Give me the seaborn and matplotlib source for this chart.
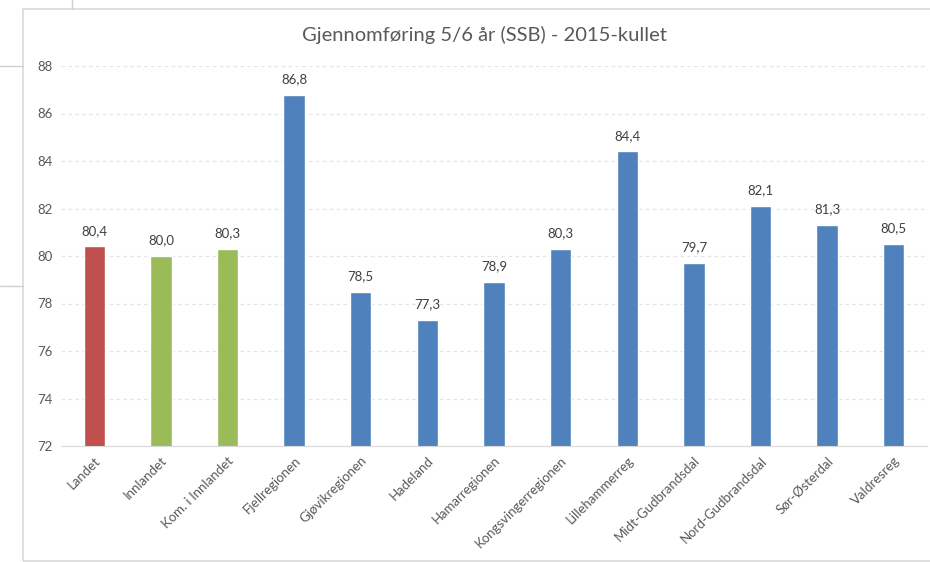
import seaborn as sns
import matplotlib.pyplot as plt
import pandas as pd
from matplotlib.patches import Rectangle
from matplotlib.lines import Line2D

# data
regions = ['Landet', 'Innlandet', 'Kom. i Innlandet', 'Fjellregionen', 'Gjøvikregionen',
           'Hadeland', 'Hamarregionen', 'Kongsvingerregionen', 'Lillehammerreg',
           'Midt-Gudbrandsdal', 'Nord-Gudbrandsdal', 'Sør-Østerdal', 'Valdresreg']
values = [80.4, 80.0, 80.3, 86.8, 78.5, 77.3, 78.9, 80.3, 84.4, 79.7, 82.1, 81.3, 80.5]
bar_colors = ['#C0504D', '#9BBB59', '#9BBB59'] + ['#4F81BD'] * 10
yticks = [72, 74, 76, 78, 80, 82, 84, 86, 88]

df = pd.DataFrame({'region': regions, 'value': values})

sns.set_style('white')
plt.rcParams['font.family'] = ['Lato', 'DejaVu Sans']
txt = '#595959'

fig = plt.figure(figsize=(9.3, 5.62), dpi=100)
ax = fig.add_axes([61 / 930, 1 - 446 / 562, 866 / 930, 380 / 562])

sns.barplot(data=df, x='region', y='value', hue='region', palette=bar_colors,
            legend=False, width=0.32, saturation=1, ax=ax)

ax.set_ylim(72, 88)
ax.set_yticks(yticks)
ax.set_yticklabels([str(t) for t in yticks], color=txt, fontsize=9.5)
ax.set_xlim(-0.5, len(regions) - 0.5)
ax.set_xticks(range(len(regions)))
ax.set_xticklabels(regions, rotation=45, ha='right', rotation_mode='anchor',
                   color=txt, fontsize=9.5)
ax.tick_params(axis='both', length=0, pad=6)
ax.set_xlabel('')
ax.set_ylabel('')

for t in yticks[1:]:
    ax.axhline(t, color='#E6E6E6', lw=0.9, ls=(0, (3, 2.5)), zorder=0)
for s in ['top', 'right', 'left']:
    ax.spines[s].set_visible(False)
ax.spines['bottom'].set_color('#D9D9D9')

for i, v in enumerate(values):
    ax.text(i, v + 0.4, f'{v:.1f}'.replace('.', ','), ha='center', va='bottom',
            color='#404040', fontsize=9.5)

fig.text(484 / 930, 1 - 35 / 562, 'Gjennomføring 5/6 år (SSB) - 2015-kullet',
         ha='center', va='center', color=txt, fontsize=14.5)

# chart frame and surrounding sheet lines
fig.add_artist(Rectangle((23 / 930, 1 - 561 / 562), 920 / 930, 552 / 562,
                         transform=fig.transFigure, fill=False,
                         edgecolor='#D9D9D9', lw=1.2))
fig.add_artist(Line2D([72 / 930, 72 / 930], [1, 1 - 9 / 562],
                      transform=fig.transFigure, color='#D0D0D0', lw=1))
for yy in [66, 286]:
    fig.add_artist(Line2D([0, 23 / 930], [1 - yy / 562, 1 - yy / 562],
                          transform=fig.transFigure, color='#D0D0D0', lw=1))

fig.savefig('out.png', dpi=100)
